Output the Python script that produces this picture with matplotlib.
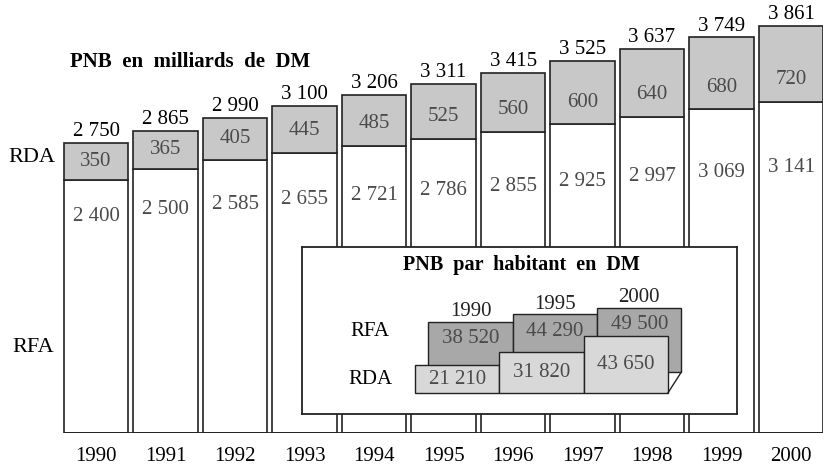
import matplotlib.pyplot as plt

plt.rcParams["font.family"] = ["Liberation Serif", "DejaVu Serif"]

years = [1990, 1991, 1992, 1993, 1994, 1995, 1996, 1997, 1998, 1999, 2000]
rfa = [2400, 2500, 2585, 2655, 2721, 2786, 2855, 2925, 2997, 3069, 3141]
rda = [350, 365, 405, 445, 485, 525, 560, 600, 640, 680, 720]
totals = [2750, 2865, 2990, 3100, 3206, 3311, 3415, 3525, 3637, 3749, 3861]

hab_years = ["1990", "1995", "2000"]
hab_rfa = [38520, 44290, 49500]
hab_rda = [21210, 31820, 43650]

W, H = 823, 467
edge = "#222222"
val_col = "#4a4a4a"


def fmt(v):
    return f"{v:,}".replace(",", " ")


fig = plt.figure(figsize=(W / 100, H / 100), dpi=100)

# main chart: axes bottom is the baseline
ax = fig.add_axes([0, 34 / H, 1, 433 / H])
ax.set_xlim(1988.617, 2000.46)
ax.set_ylim(0, 4104)
for s in ax.spines.values():
    s.set_visible(False)
ax.set_yticks([])
ax.set_xticks(years, labels=[str(y) for y in years], fontsize=15)
ax.tick_params(axis="x", length=0, pad=10)

bw = 0.925
ax.bar(years, rfa, width=bw, color="white", edgecolor=edge, linewidth=1.2)
ax.bar(years, rda, bottom=rfa, width=bw, color="#c8c8c8", edgecolor=edge, linewidth=1.2)
ax.hlines(0, years[0] - bw / 2, years[-1] + bw / 2, color=edge, linewidth=1.3)

for yr, a, b, t in zip(years, rfa, rda, totals):
    ax.annotate(fmt(t), (yr, t), xytext=(0, 5), textcoords="offset points",
                ha="center", va="baseline", fontsize=15, color="black")
    ax.text(yr, a + min(b / 2, 210), fmt(b), ha="center", va="center",
            fontsize=15, color=val_col)
    ax.text(yr, 0.63 * a + 540, fmt(a), ha="center", va="center",
            fontsize=15, color=val_col)

fig.text(70 / W, 1 - 62 / H, "PNB  en  milliards  de  DM", fontsize=15,
         fontweight="bold", ha="left", va="center")
fig.text(8 / W, 1 - 157 / H, "RDA", fontsize=16, ha="left", va="center")
fig.text(12 / W, 1 - 347 / H, "RFA", fontsize=16, ha="left", va="center")

# inset: PNB par habitant
ax2 = fig.add_axes([302 / W, (H - 414) / H, 435 / W, 167 / H])
ax2.set_xlim(-1.340, 3.820)
ax2.set_ylim(-16154, 112308)
ax2.set_xticks([])
ax2.set_yticks([])
ax2.set_facecolor("white")
for s in ax2.spines.values():
    s.set_color(edge)
    s.set_linewidth(1.3)

xs = [0, 1, 2]
dx = 0.16
back0 = 16154
ax2.bar([x + dx for x in xs], hab_rfa, width=1, bottom=back0, align="edge",
        color="#a8a8a8", edgecolor=edge, linewidth=1.0, zorder=2)
ax2.bar(xs, hab_rda, width=1, align="edge", color="#d8d8d8",
        edgecolor=edge, linewidth=1.0, zorder=3)
ax2.plot([3 + dx, 3], [back0, 0], color=edge, linewidth=1.0, zorder=4)

for x, yl, a, b in zip(xs, hab_years, hab_rfa, hab_rda):
    top = back0 + a
    ax2.annotate(yl, (x + dx + 0.5, top), xytext=(0, 4), textcoords="offset points",
                 ha="center", va="baseline", fontsize=15, color="#222222")
    ax2.annotate(fmt(a), (x + dx + 0.5, top), xytext=(0, -12),
                 textcoords="offset points", ha="center", va="center",
                 fontsize=15, color=val_col, zorder=5)
    ax2.text(x + 0.5, b / 2, fmt(b), ha="center", va="center",
             fontsize=15, color=val_col, zorder=5)

ax2.text(-0.534, 47692, "RFA", ha="center", va="center", fontsize=15)
ax2.text(-0.534, 10000, "RDA", ha="center", va="center", fontsize=15)
ax2.text(1.26, 98462, "PNB  par  habitant  en  DM", ha="center", va="center",
         fontsize=14.5, fontweight="bold")

fig.savefig("out.png", dpi=100)
